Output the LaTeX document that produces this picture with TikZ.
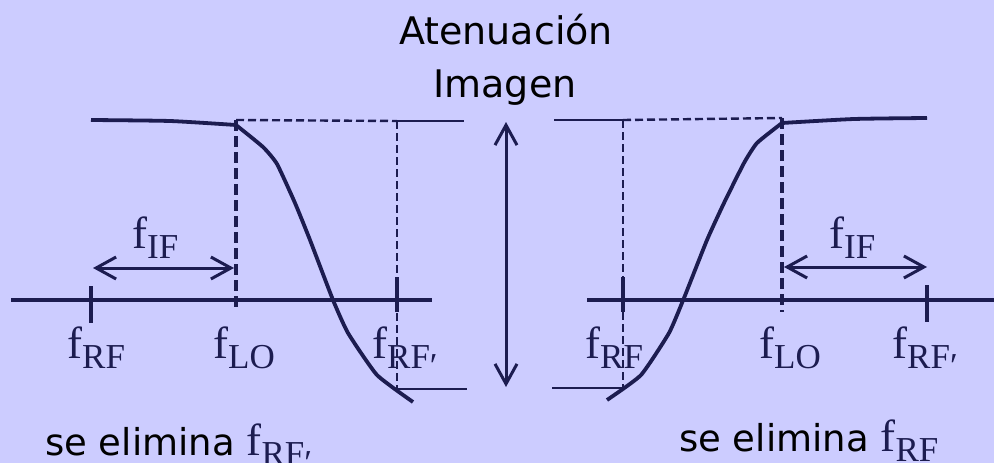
\documentclass[tikz,border=0pt]{standalone}
\usepackage{fontspec}
\usetikzlibrary{arrows.meta}
\newfontfamily\comic{DejaVu Sans}
\newfontfamily\lblfont{Liberation Serif}
\definecolor{navy}{RGB}{28,28,80}
\definecolor{bg}{RGB}{204,204,255}
\newcommand\fsub[2]{{\lblfont\color{navy}{\fontsize{45}{45}\selectfont f}\raisebox{-10pt}{\fontsize{35}{35}\selectfont #1#2}}}
\newcommand\prm{\raisebox{-9pt}{′}}
\tikzset{
  curve/.style={navy, line width=3.8pt, line join=round},
  axis/.style={navy, line width=4pt},
  tick/.style={navy, line width=3.6pt},
  thickdash/.style={navy, line width=3.6pt, dash pattern=on 11pt off 5pt},
  thindash/.style={navy, line width=2.4pt, dash pattern=on 8pt off 4pt},
  thinline/.style={navy, line width=2.6pt},
  dim/.style={navy, line width=3pt, {Straight Barb[length=20pt,width=22pt,line width=3pt]}-{Straight Barb[length=20pt,width=22pt,line width=3pt]}},
  lbl/.style={inner sep=0pt, anchor=base west},
  txt/.style={inner sep=0pt, font=\comic\fontsize{38}{38}\selectfont, text=black}
}
\begin{document}
\begin{tikzpicture}[x=1pt,y=-1pt]
\fill[bg] (0,0) rectangle (994,463);
\useasboundingbox (0,0) rectangle (994,463);
% ---- title
\node[txt, anchor=base] (aten) at (506,45) {Atenuación};
\node[txt, anchor=base] (imag) at (505,97) {Imagen};
% ---- central arrow
\coordinate (vtop) at (506,122);
\coordinate (vbot) at (506,387);
\draw[dim] (vtop) -- (vbot);

% ================= LEFT =================
\coordinate (LaxA) at (11,300);
\coordinate (LaxB) at (432,300);
\draw[axis] (LaxA) -- (LaxB);
\coordinate (LtRFa) at (91,286); \coordinate (LtRFb) at (91,323);
\draw[tick] (LtRFa) -- (LtRFb);
\coordinate (LtRPa) at (397,277); \coordinate (LtRPb) at (397,312);
\draw[tick] (LtRPa) -- (LtRPb);
% dashed guides
\coordinate (LLOtop) at (236,120);
\coordinate (LLObot) at (236,312);
\draw[thickdash] (LLOtop) -- (LLObot);
\coordinate (LRPtop) at (397,121);
\coordinate (LRPbot) at (397,389);
\draw[thindash] (LLOtop) -- (LRPtop);
\draw[thindash] (LRPtop) -- (LRPbot);
\coordinate (LtopR) at (464,121);
\draw[thinline] (LRPtop) -- (LtopR);
\coordinate (LbotR) at (467,389);
\draw[thinline] (LRPbot) -- (LbotR);
% response curve
\draw[curve] plot[smooth, tension=0.35] coordinates {(91,120) (170,121) (236,125)};
\draw[curve] plot[smooth, tension=0.3] coordinates {(236,125) (263,147) (277,164) (295,203) (310,240) (333,300) (348,333) (377,375) (413,402)};
% IF arrow
\coordinate (LifA) at (93,268); \coordinate (LifB) at (234,268);
\draw[dim] (LifA) -- (LifB);
% labels
\node[lbl] (LfIF) at (132,248) {\fsub{IF}{}};
\node[lbl] (LfRF) at (67,358) {\fsub{RF}{}};
\node[lbl] (LfLO) at (213,358) {\fsub{LO}{}};
\node[lbl] (LfRP) at (372,358) {\fsub{RF}{\prm}};
\node[txt, anchor=base west, font=\comic\fontsize{37}{37}\selectfont] (Lse) at (45,455) {se elimina \fsub{RF}{\prm}};

% ================= RIGHT =================
\coordinate (RaxA) at (587,300);
\coordinate (RaxB) at (994,300);
\draw[axis] (RaxA) -- (RaxB);
\coordinate (RtRFa) at (623,277); \coordinate (RtRFb) at (623,312);
\draw[tick] (RtRFa) -- (RtRFb);
\coordinate (RtRPa) at (927,285); \coordinate (RtRPb) at (927,322);
\draw[tick] (RtRPa) -- (RtRPb);
\coordinate (RLOtop) at (782,118);
\coordinate (RLObot) at (782,312);
\draw[thickdash] (RLOtop) -- (RLObot);
\coordinate (RRFtop) at (623,120);
\coordinate (RRFbot) at (623,388);
\draw[thindash] (RRFtop) -- (RLOtop);
\draw[thindash] (RRFtop) -- (RRFbot);
\coordinate (RtopL) at (554,120);
\draw[thinline] (RtopL) -- (RRFtop);
\coordinate (RbotL) at (552,388);
\draw[thinline] (RbotL) -- (RRFbot);
\draw[curve] plot[smooth, tension=0.35] coordinates {(782,123) (854,119) (927,118)};
\draw[curve] plot[smooth, tension=0.3] coordinates {(782,123) (757,143) (744,163) (724,203) (707,240) (684,298) (669,333) (641,375) (607,400)};
\coordinate (RifA) at (784,267); \coordinate (RifB) at (927,267);
\draw[dim] (RifA) -- (RifB);
\node[lbl] (RfIF) at (829,248) {\fsub{IF}{}};
\node[lbl] (RfRF) at (585,358) {\fsub{RF}{}};
\node[lbl] (RfLO) at (759,358) {\fsub{LO}{}};
\node[lbl] (RfRP) at (892,358) {\fsub{RF}{\prm}};
\node[txt, anchor=base west, font=\comic\fontsize{37}{37}\selectfont] (Rse) at (679,451) {se elimina \fsub{RF}{}};
\end{tikzpicture}
\end{document}
